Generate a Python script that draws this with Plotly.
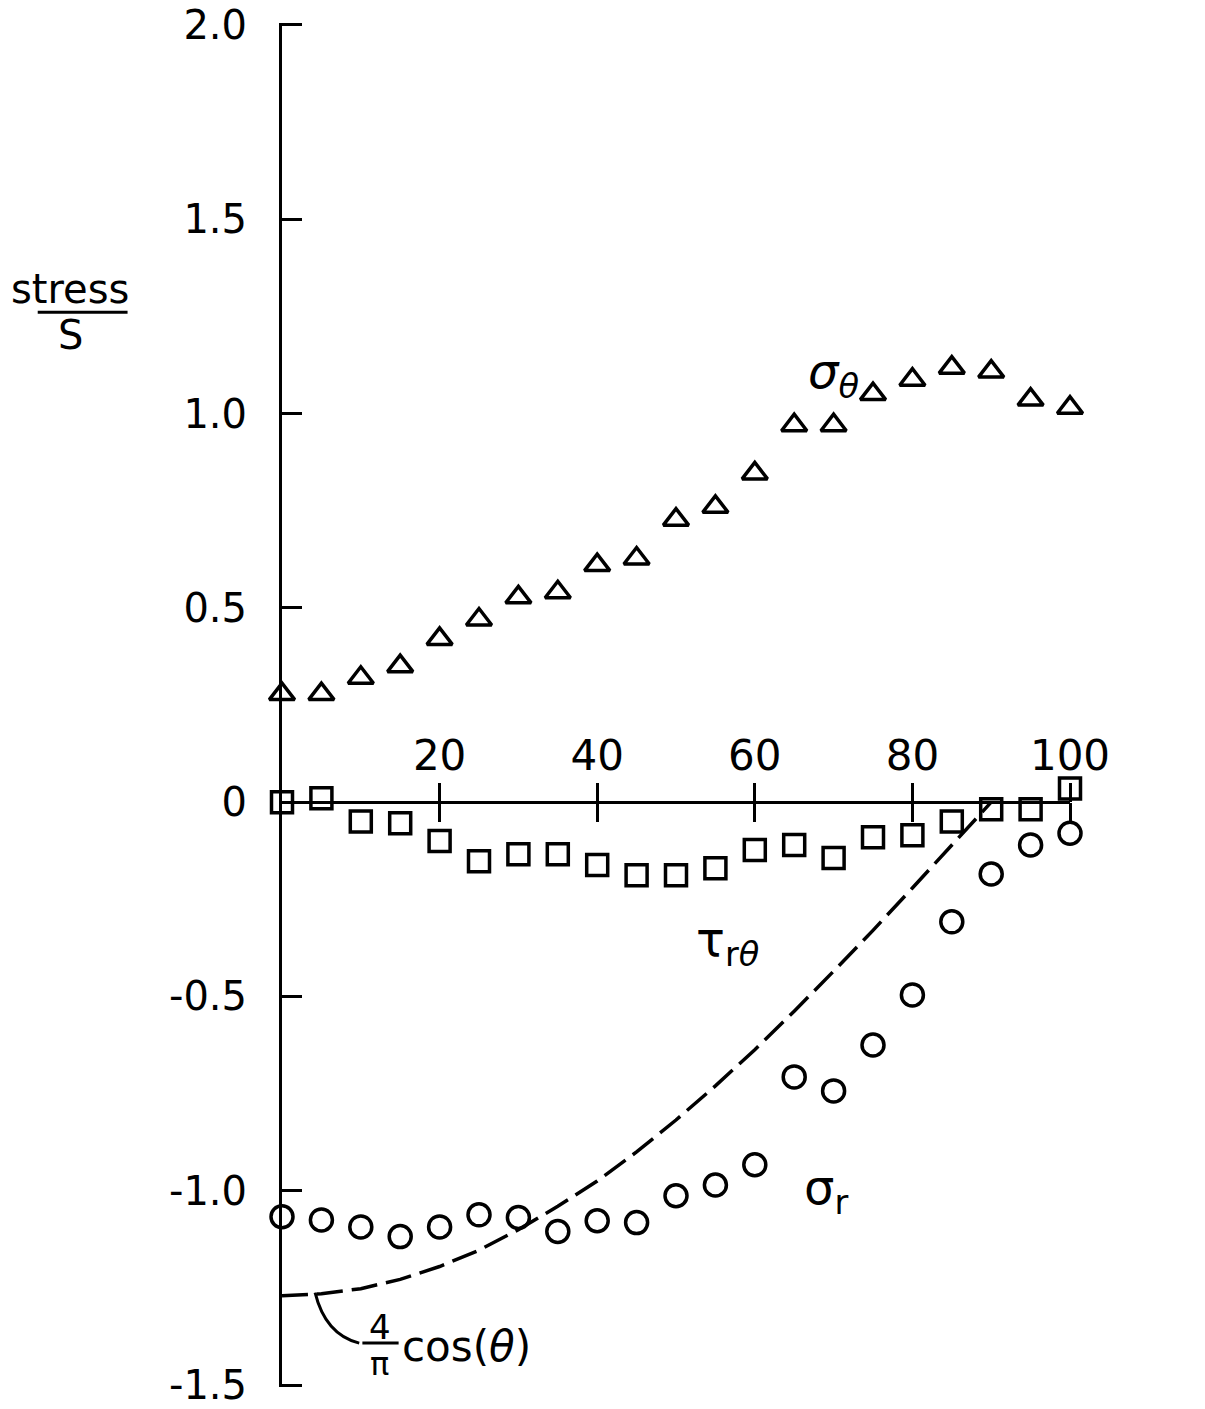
import plotly.graph_objects as go

theta = [0, 5, 10, 15, 20, 25, 30, 35, 40, 45, 50, 55, 60, 65, 70, 75, 80, 85, 90, 95, 100]
sigma_theta = [0.278, 0.278, 0.32, 0.35, 0.42, 0.47, 0.527, 0.54, 0.61, 0.627, 0.727, 0.76, 0.846,
               0.97, 0.97, 1.05, 1.087, 1.118, 1.108, 1.036, 1.015]
tau_r_theta = [0.0, 0.01, -0.05, -0.054, -0.10, -0.152, -0.134, -0.134, -0.162, -0.188, -0.188,
               -0.17, -0.123, -0.11, -0.144, -0.09, -0.085, -0.05, -0.018, -0.018, 0.035]
sigma_r = [-1.067, -1.075, -1.093, -1.118, -1.093, -1.062, -1.069, -1.105, -1.077, -1.082, -1.013,
           -0.985, -0.933, -0.707, -0.743, -0.625, -0.496, -0.308, -0.185, -0.11, -0.08]

curve_theta = [0, 5, 10, 15, 20, 25, 30, 35, 40, 45, 50, 55, 60, 65, 70, 75, 80, 85, 90]
curve_vals = [-1.27, -1.265, -1.252, -1.228, -1.195, -1.153, -1.10, -1.04, -0.975, -0.90, -0.818,
              -0.73, -0.637, -0.538, -0.435, -0.33, -0.221, -0.111, 0.0]

ytick_vals = [-1.5, -1.0, -0.5, 0, 0.5, 1.0, 1.5, 2.0]
ytick_text = ["-1.5", "-1.0", "-0.5", "0", "0.5", "1.0", "1.5", "2.0"]
xtick_vals = [20, 40, 60, 80, 100]

FONT = "DejaVu Sans"
BLACK = "black"

fig = go.Figure()

fig.add_trace(go.Scatter(x=curve_theta, y=curve_vals, mode="lines",
                         line=dict(color=BLACK, width=3.5, dash="26px,9px"),
                         cliponaxis=False, showlegend=False))
fig.add_trace(go.Scatter(x=theta, y=sigma_theta, mode="markers",
                         marker=dict(symbol="triangle-up-open", size=22, color=BLACK,
                                     line=dict(width=3.5, color=BLACK)),
                         cliponaxis=False, showlegend=False))
fig.add_trace(go.Scatter(x=theta, y=tau_r_theta, mode="markers",
                         marker=dict(symbol="square-open", size=21, color=BLACK,
                                     line=dict(width=3.5, color=BLACK)),
                         cliponaxis=False, showlegend=False))
fig.add_trace(go.Scatter(x=theta, y=sigma_r, mode="markers",
                         marker=dict(symbol="circle-open", size=22, color=BLACK,
                                     line=dict(width=3.5, color=BLACK)),
                         cliponaxis=False, showlegend=False))
# invisible traces to activate the extra x axes (crossing ticks)
fig.add_trace(go.Scatter(x=[0, 100], y=[0, 0], xaxis="x2", mode="lines",
                         line=dict(width=0), opacity=0, showlegend=False, hoverinfo="skip"))
fig.add_trace(go.Scatter(x=[0, 100], y=[0, 0], xaxis="x3", mode="lines",
                         line=dict(width=0), opacity=0, showlegend=False, hoverinfo="skip"))

y_lo, y_hi = -1.505, 2.005
xpos = (0 - y_lo) / (y_hi - y_lo)

fig.update_layout(
    width=1205, height=1409,
    margin=dict(l=282, r=135, t=23, b=22),
    paper_bgcolor="white", plot_bgcolor="white",
    font=dict(family=FONT, color=BLACK, size=40),
    xaxis=dict(range=[0, 100], anchor="free", position=xpos, side="top", automargin=False,
               tickvals=xtick_vals, ticks="outside", ticklen=12, tickwidth=3, tickcolor=BLACK,
               showline=True, linewidth=3, linecolor=BLACK, showgrid=False, zeroline=False,
               tickfont=dict(size=42, family=FONT), ticklabelstandoff=2,
               ticklabeloverflow="allow"),
    xaxis2=dict(range=[0, 100], anchor="free", position=xpos, side="bottom", overlaying="x",
                automargin=False,
                tickvals=xtick_vals, ticks="outside", ticklen=19, tickwidth=3, tickcolor=BLACK,
                showticklabels=False, showline=False, showgrid=False, zeroline=False),
    xaxis3=dict(range=[0, 100], anchor="free", position=xpos, side="top", overlaying="x",
                automargin=False,
                tickvals=xtick_vals, ticks="outside", ticklen=19, tickwidth=3, tickcolor=BLACK,
                showticklabels=False, showline=False, showgrid=False, zeroline=False),
    yaxis=dict(range=[y_lo, y_hi], tickvals=ytick_vals, ticktext=ytick_text, automargin=False,
               ticks="inside", ticklen=20, tickwidth=3, tickcolor=BLACK,
               showline=True, linewidth=3, linecolor=BLACK, showgrid=False, zeroline=False,
               tickfont=dict(size=40, family=FONT), ticklabelstandoff=24,
               ticklabeloverflow="allow"),
)

annotations = [
    dict(x=-0.269, y=0.805, xref="paper", yref="paper", text="stress", showarrow=False,
         xanchor="center", yanchor="middle", font=dict(size=40, family=FONT)),
    dict(x=-0.269, y=0.771, xref="paper", yref="paper", text="S", showarrow=False,
         xanchor="center", yanchor="middle", font=dict(size=40, family=FONT)),
    dict(x=70, y=1.10, text="<i>σ<sub>θ</sub></i>", showarrow=False, font=dict(size=48, family=FONT)),
    dict(x=56.5, y=-0.36, text="τ<sub>r<i>θ</i></sub>", showarrow=False, font=dict(size=48, family=FONT)),
    dict(x=69, y=-1.0, text="σ<sub>r</sub>", showarrow=False, font=dict(size=48, family=FONT)),
    dict(x=107.5, y=-0.23, text="<i>θ</i>,deg.", showarrow=False, font=dict(size=40, family=FONT)),
    dict(x=12.4, y=-1.35, text="4", showarrow=False, font=dict(size=34, family=FONT)),
    dict(x=12.4, y=-1.445, text="π", showarrow=False, font=dict(size=32, family=FONT)),
    dict(x=15.0, y=-1.40, text="cos(<i>θ</i>)", showarrow=False, xanchor="left",
         font=dict(size=42, family=FONT)),
]
fig.update_layout(annotations=annotations)

fig.update_layout(shapes=[
    dict(type="line", xref="paper", yref="paper", x0=-0.31, x1=-0.196, y0=0.788, y1=0.788,
         line=dict(color=BLACK, width=3)),
    dict(type="line", xref="x", yref="y", x0=10.2, x1=14.8, y0=-1.392, y1=-1.392,
         line=dict(color=BLACK, width=3)),
    dict(type="path", xref="x", yref="y", path="M 4.2,-1.262 Q 5.5,-1.37 9.8,-1.392",
         line=dict(color=BLACK, width=3)),
])

fig.write_html("out.html", config={"displayModeBar": False},
               post_script="document.body.style.margin='0px';")
